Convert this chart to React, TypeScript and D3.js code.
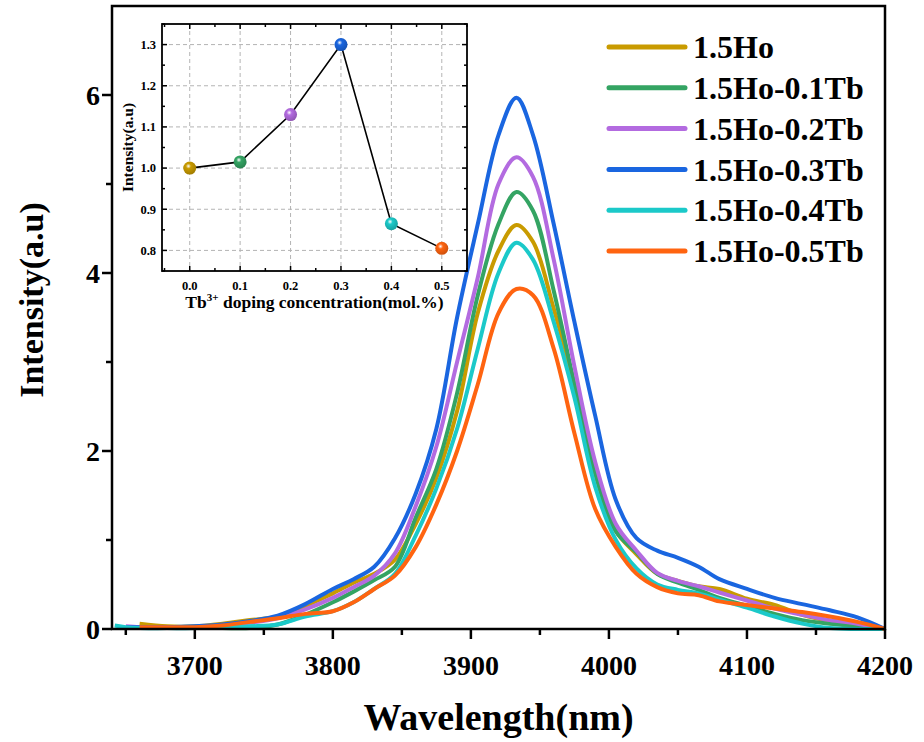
import React from 'react';
import * as d3 from 'd3';

// wavelength grid (nm) shared by all spectra; null = no data there
const wavelengths = [3642, 3650, 3660, 3680, 3700, 3720, 3740, 3760, 3780, 3800, 3815, 3830, 3845, 3860, 3875, 3890, 3905, 3920, 3933, 3945, 3960, 3975, 3990, 4005, 4020, 4035, 4050, 4065, 4080, 4100, 4120, 4140, 4160, 4180, 4200];

const ho = [null, null, 0.06, 0.03, 0.03, 0.06, 0.10, 0.14, 0.26, 0.40, 0.52, 0.62, 0.78, 1.18, 1.70, 2.45, 3.55, 4.25, 4.54, 4.35, 3.60, 2.75, 1.75, 1.10, 0.84, 0.62, 0.54, 0.48, 0.45, 0.34, 0.27, 0.16, 0.09, 0.05, 0.0];
const tb01 = [null, null, 0.01, 0.01, 0.01, 0.01, 0.01, 0.05, 0.16, 0.30, 0.42, 0.55, 0.70, 1.25, 1.80, 2.65, 3.75, 4.55, 4.91, 4.70, 3.80, 2.75, 1.75, 1.10, 0.86, 0.62, 0.52, 0.44, 0.35, 0.26, 0.17, 0.10, 0.06, 0.03, 0.0];
const tb02 = [null, 0.03, 0.02, 0.02, 0.02, 0.04, 0.07, 0.12, 0.22, 0.35, 0.47, 0.60, 0.85, 1.38, 2.05, 3.00, 3.95, 5.00, 5.30, 5.08, 4.15, 2.95, 1.88, 1.18, 0.88, 0.63, 0.54, 0.48, 0.41, 0.32, 0.23, 0.16, 0.10, 0.06, 0.0];
const tb03 = [null, 0.02, 0.02, 0.02, 0.03, 0.05, 0.09, 0.15, 0.28, 0.45, 0.56, 0.70, 1.02, 1.52, 2.25, 3.50, 4.55, 5.55, 5.97, 5.55, 4.55, 3.45, 2.40, 1.45, 1.02, 0.88, 0.80, 0.70, 0.56, 0.45, 0.35, 0.28, 0.21, 0.13, 0.0];
const tb04 = [0.04, 0.02, 0.01, 0.01, 0.01, 0.02, 0.03, 0.05, 0.14, 0.20, 0.30, 0.45, 0.62, 1.05, 1.58, 2.25, 3.15, 4.00, 4.34, 4.15, 3.45, 2.60, 1.60, 1.00, 0.68, 0.50, 0.44, 0.40, 0.33, 0.24, 0.14, 0.06, 0.01, 0.0, 0.0];
const tb05 = [null, null, 0.02, 0.02, 0.02, 0.04, 0.08, 0.12, 0.17, 0.20, 0.30, 0.45, 0.60, 0.92, 1.40, 2.00, 2.75, 3.55, 3.82, 3.75, 3.15, 2.20, 1.35, 0.92, 0.62, 0.47, 0.40, 0.38, 0.31, 0.27, 0.23, 0.19, 0.14, 0.08, 0.0];

const seriesNames = ['1.5Ho', '1.5Ho-0.1Tb', '1.5Ho-0.2Tb', '1.5Ho-0.3Tb', '1.5Ho-0.4Tb', '1.5Ho-0.5Tb'];
const seriesValues = [ho, tb01, tb02, tb03, tb04, tb05];
const seriesColors = ['#c99b00', '#34a463', '#b36be0', '#1a66e0', '#1bc9c9', '#ff6410'];

const xTicks = [3700, 3800, 3900, 4000, 4100, 4200];
const xMinorTicks = [3650, 3750, 3850, 3950, 4050, 4150];
const yTicks = [0, 2, 4, 6];
const yMinorTicks = [1, 3, 5];

// inset: relative intensity vs Tb3+ concentration
const tbConc = [0.0, 0.1, 0.2, 0.3, 0.4, 0.5];
const relIntensity = [1.0, 1.015, 1.13, 1.30, 0.865, 0.805];
const insetXTicks = [0.0, 0.1, 0.2, 0.3, 0.4, 0.5];
const insetYTicks = [0.8, 0.9, 1.0, 1.1, 1.2, 1.3];

const FONT = '"Liberation Serif", "Times New Roman", serif';

const M = { left: 112, right: 885, top: 6, bottom: 629 };
const INSET = { left: 162, right: 467, top: 24, bottom: 271 };

export default function App() {
  const x = d3.scaleLinear().domain([3640, 4200]).range([M.left, M.right]);
  const y = d3.scaleLinear().domain([0, 7]).range([M.bottom, M.top]);

  const line = d3.line<number | null>()
    .defined(d => d !== null)
    .x((d, i) => x(wavelengths[i]))
    .y(d => y(Math.max(0, d as number)))
    .curve(d3.curveCatmullRom.alpha(0.5));

  const ix = d3.scaleLinear().domain([-0.055, 0.55]).range([INSET.left, INSET.right]);
  const iy = d3.scaleLinear().domain([0.75, 1.35]).range([INSET.bottom, INSET.top]);
  const insetLine = d3.line<number>().x((d, i) => ix(tbConc[i])).y(d => iy(d));
  const insetXMinor = d3.range(-0.05, 0.551, 0.05).filter(v => Math.abs(Math.round(v * 10) - v * 10) > 0.01);
  const insetYMinor = d3.range(0.75, 1.351, 0.05).filter(v => Math.abs(Math.round(v * 10) - v * 10) > 0.01);

  return (
    <svg width={924} height={742} style={{ position: 'absolute', left: 0, top: 0, background: '#fff' }} fontFamily={FONT} fontWeight="bold">
      <defs>
        {seriesColors.map((c, i) => (
          <radialGradient key={i} id={`ball${i}`} cx="0.4" cy="0.35" r="0.65">
            <stop offset="0" stopColor="#ffffff" />
            <stop offset="0.3" stopColor={c} />
            <stop offset="1" stopColor={d3.color(c)!.darker(0.6).toString()} />
          </radialGradient>
        ))}
      </defs>

      {/* spectra */}
      <g fill="none" strokeWidth={4} strokeLinejoin="round">
        {seriesValues.map((vals, i) => (
          <path key={i} d={line(vals) || ''} stroke={seriesColors[i]} />
        ))}
      </g>

      {/* main frame and axes */}
      <rect x={M.left} y={M.top} width={M.right - M.left} height={M.bottom - M.top} fill="none" stroke="#000" strokeWidth={2.5} />
      <g stroke="#000" strokeWidth={2.5}>
        {xTicks.map(t => <line key={t} x1={x(t)} x2={x(t)} y1={M.bottom} y2={M.bottom + 10} />)}
        {xMinorTicks.map(t => <line key={t} x1={x(t)} x2={x(t)} y1={M.bottom} y2={M.bottom + 6} />)}
        {yTicks.map(t => <line key={t} x1={M.left - 10} x2={M.left} y1={y(t)} y2={y(t)} />)}
        {yMinorTicks.map(t => <line key={t} x1={M.left - 6} x2={M.left} y1={y(t)} y2={y(t)} />)}
      </g>
      <g fontSize={28} fill="#000">
        {xTicks.map(t => <text key={t} x={x(t)} y={M.bottom + 46} textAnchor="middle">{t}</text>)}
        {yTicks.map(t => <text key={t} x={M.left - 12} y={y(t)} dy="0.35em" textAnchor="end">{t}</text>)}
      </g>
      <text x={(M.left + M.right) / 2} y={730} fontSize={38} textAnchor="middle">Wavelength(nm)</text>
      <text transform={`translate(31, 300) rotate(-90)`} fontSize={34} textAnchor="middle" dy="0.35em">Intensity(a.u)</text>

      {/* legend */}
      {seriesNames.map((n, i) => {
        const ly = 47 + i * 40.8;
        return (
          <g key={n}>
            <line x1={609} x2={685} y1={ly} y2={ly} stroke={seriesColors[i]} strokeWidth={5} strokeLinecap="round" />
            <text x={693} y={ly} dy="0.35em" fontSize={32}>{n}</text>
          </g>
        );
      })}

      {/* inset */}
      <rect x={INSET.left} y={INSET.top} width={INSET.right - INSET.left} height={INSET.bottom - INSET.top} fill="#fff" />
      <g stroke="#b4b4b4" strokeWidth={1} strokeDasharray="4,3">
        {insetXTicks.map(t => <line key={t} x1={ix(t)} x2={ix(t)} y1={INSET.top} y2={INSET.bottom} />)}
        {insetYTicks.map(t => <line key={t} x1={INSET.left} x2={INSET.right} y1={iy(t)} y2={iy(t)} />)}
      </g>
      <g stroke="#000" strokeWidth={1.5}>
        {insetXTicks.map(t => (
          <g key={t}>
            <line x1={ix(t)} x2={ix(t)} y1={INSET.bottom} y2={INSET.bottom - 5} />
            <line x1={ix(t)} x2={ix(t)} y1={INSET.top} y2={INSET.top + 5} />
          </g>
        ))}
        {insetXMinor.map(t => (
          <g key={t}>
            <line x1={ix(t)} x2={ix(t)} y1={INSET.bottom} y2={INSET.bottom - 3} />
            <line x1={ix(t)} x2={ix(t)} y1={INSET.top} y2={INSET.top + 3} />
          </g>
        ))}
        {insetYTicks.map(t => (
          <g key={t}>
            <line x1={INSET.left} x2={INSET.left + 5} y1={iy(t)} y2={iy(t)} />
            <line x1={INSET.right} x2={INSET.right - 5} y1={iy(t)} y2={iy(t)} />
          </g>
        ))}
        {insetYMinor.map(t => (
          <g key={t}>
            <line x1={INSET.left} x2={INSET.left + 3} y1={iy(t)} y2={iy(t)} />
            <line x1={INSET.right} x2={INSET.right - 3} y1={iy(t)} y2={iy(t)} />
          </g>
        ))}
      </g>
      <rect x={INSET.left} y={INSET.top} width={INSET.right - INSET.left} height={INSET.bottom - INSET.top} fill="none" stroke="#000" strokeWidth={1.8} />
      <path d={insetLine(relIntensity) || ''} fill="none" stroke="#000" strokeWidth={1.6} />
      {relIntensity.map((v, i) => (
        <circle key={i} cx={ix(tbConc[i])} cy={iy(v)} r={6.5} fill={`url(#ball${i})`} />
      ))}
      <g fontSize={12.5} fill="#000">
        {insetXTicks.map(t => <text key={t} x={ix(t)} y={INSET.bottom + 19} textAnchor="middle">{t.toFixed(1)}</text>)}
        {insetYTicks.map(t => <text key={t} x={INSET.left - 6} y={iy(t)} dy="0.35em" textAnchor="end">{t.toFixed(1)}</text>)}
      </g>
      <text x={(INSET.left + INSET.right) / 2} y={308} fontSize={17.5} textAnchor="middle">
        Tb<tspan fontSize={11} dy={-7}>3+</tspan><tspan dy={7}> doping concentration(mol.%)</tspan>
      </text>
      <text transform={`translate(128, ${(INSET.top + INSET.bottom) / 2}) rotate(-90)`} fontSize={15.5} textAnchor="middle" dy="0.35em">Intensity(a.u)</text>
    </svg>
  );
}
